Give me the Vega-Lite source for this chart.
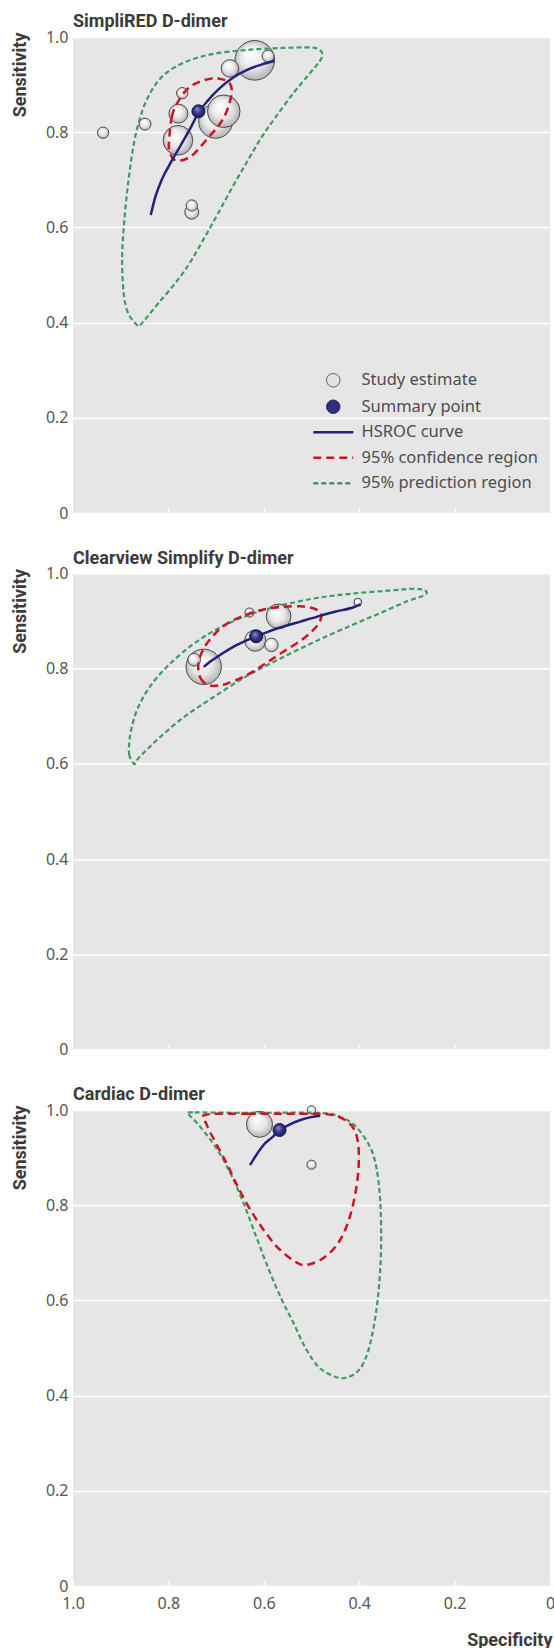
{
  "$schema": "https://vega.github.io/schema/vega-lite/v6.json",
  "background": "white",
  "padding": {"left": 10, "top": 13, "right": 4, "bottom": 0},
  "spacing": 28.5,
  "resolve": {
    "scale": {"stroke": "independent", "size": "independent"},
    "legend": {"stroke": "independent", "size": "independent"}
  },
  "config": {
    "view": {"fill": "#e6e6e6", "stroke": null},
    "font": "Noto Sans",
    "axis": {
      "labelFont": "Noto Sans", "labelFontSize": 16, "labelColor": "#555555",
      "titleFont": "Roboto", "titleFontWeight": "bold", "titleFontSize": 18, "titleColor": "#3d3a3a",
      "domain": false
    },
    "title": {"font": "Roboto", "fontSize": 18, "fontWeight": "bold", "color": "#3d3a3a", "anchor": "start", "frame": "group", "offset": -2}
  },
  "data": {"values": [
    {"panel": "SimpliRED D-dimer", "series": "Study estimate", "spec": 0.937, "sens": 0.799, "weight": 32},
    {"panel": "SimpliRED D-dimer", "series": "Study estimate", "spec": 0.849, "sens": 0.817, "weight": 36},
    {"panel": "SimpliRED D-dimer", "series": "Study estimate", "spec": 0.771, "sens": 0.882, "weight": 32},
    {"panel": "SimpliRED D-dimer", "series": "Study estimate", "spec": 0.779, "sens": 0.839, "weight": 90},
    {"panel": "SimpliRED D-dimer", "series": "Study estimate", "spec": 0.780, "sens": 0.783, "weight": 219},
    {"panel": "SimpliRED D-dimer", "series": "Study estimate", "spec": 0.751, "sens": 0.646, "weight": 32},
    {"panel": "SimpliRED D-dimer", "series": "Study estimate", "spec": 0.751, "sens": 0.632, "weight": 49},
    {"panel": "SimpliRED D-dimer", "series": "Study estimate", "spec": 0.671, "sens": 0.934, "weight": 77},
    {"panel": "SimpliRED D-dimer", "series": "Study estimate", "spec": 0.619, "sens": 0.951, "weight": 392},
    {"panel": "SimpliRED D-dimer", "series": "Study estimate", "spec": 0.591, "sens": 0.960, "weight": 36},
    {"panel": "SimpliRED D-dimer", "series": "Study estimate", "spec": 0.701, "sens": 0.823, "weight": 289},
    {"panel": "SimpliRED D-dimer", "series": "Study estimate", "spec": 0.684, "sens": 0.844, "weight": 266},
    {"panel": "SimpliRED D-dimer", "series": "Summary point", "spec": 0.737, "sens": 0.844},
    {"panel": "SimpliRED D-dimer", "series": "HSROC curve", "i": 0, "spec": 0.837, "sens": 0.626},
    {"panel": "SimpliRED D-dimer", "series": "HSROC curve", "i": 1, "spec": 0.828, "sens": 0.662},
    {"panel": "SimpliRED D-dimer", "series": "HSROC curve", "i": 2, "spec": 0.813, "sens": 0.702},
    {"panel": "SimpliRED D-dimer", "series": "HSROC curve", "i": 3, "spec": 0.794, "sens": 0.738},
    {"panel": "SimpliRED D-dimer", "series": "HSROC curve", "i": 4, "spec": 0.775, "sens": 0.771},
    {"panel": "SimpliRED D-dimer", "series": "HSROC curve", "i": 5, "spec": 0.753, "sens": 0.810},
    {"panel": "SimpliRED D-dimer", "series": "HSROC curve", "i": 6, "spec": 0.738, "sens": 0.839},
    {"panel": "SimpliRED D-dimer", "series": "HSROC curve", "i": 7, "spec": 0.716, "sens": 0.868},
    {"panel": "SimpliRED D-dimer", "series": "HSROC curve", "i": 8, "spec": 0.694, "sens": 0.891},
    {"panel": "SimpliRED D-dimer", "series": "HSROC curve", "i": 9, "spec": 0.664, "sens": 0.915},
    {"panel": "SimpliRED D-dimer", "series": "HSROC curve", "i": 10, "spec": 0.635, "sens": 0.931},
    {"panel": "SimpliRED D-dimer", "series": "HSROC curve", "i": 11, "spec": 0.605, "sens": 0.942},
    {"panel": "SimpliRED D-dimer", "series": "HSROC curve", "i": 12, "spec": 0.578, "sens": 0.950},
    {"panel": "SimpliRED D-dimer", "series": "95% confidence region", "i": 0, "spec": 0.798, "sens": 0.789},
    {"panel": "SimpliRED D-dimer", "series": "95% confidence region", "i": 1, "spec": 0.793, "sens": 0.832},
    {"panel": "SimpliRED D-dimer", "series": "95% confidence region", "i": 2, "spec": 0.780, "sens": 0.864},
    {"panel": "SimpliRED D-dimer", "series": "95% confidence region", "i": 3, "spec": 0.761, "sens": 0.890},
    {"panel": "SimpliRED D-dimer", "series": "95% confidence region", "i": 4, "spec": 0.739, "sens": 0.904},
    {"panel": "SimpliRED D-dimer", "series": "95% confidence region", "i": 5, "spec": 0.709, "sens": 0.913},
    {"panel": "SimpliRED D-dimer", "series": "95% confidence region", "i": 6, "spec": 0.687, "sens": 0.911},
    {"panel": "SimpliRED D-dimer", "series": "95% confidence region", "i": 7, "spec": 0.672, "sens": 0.904},
    {"panel": "SimpliRED D-dimer", "series": "95% confidence region", "i": 8, "spec": 0.667, "sens": 0.886},
    {"panel": "SimpliRED D-dimer", "series": "95% confidence region", "i": 9, "spec": 0.672, "sens": 0.861},
    {"panel": "SimpliRED D-dimer", "series": "95% confidence region", "i": 10, "spec": 0.683, "sens": 0.832},
    {"panel": "SimpliRED D-dimer", "series": "95% confidence region", "i": 11, "spec": 0.698, "sens": 0.810},
    {"panel": "SimpliRED D-dimer", "series": "95% confidence region", "i": 12, "spec": 0.716, "sens": 0.789},
    {"panel": "SimpliRED D-dimer", "series": "95% confidence region", "i": 13, "spec": 0.735, "sens": 0.767},
    {"panel": "SimpliRED D-dimer", "series": "95% confidence region", "i": 14, "spec": 0.753, "sens": 0.749},
    {"panel": "SimpliRED D-dimer", "series": "95% confidence region", "i": 15, "spec": 0.776, "sens": 0.740},
    {"panel": "SimpliRED D-dimer", "series": "95% confidence region", "i": 16, "spec": 0.790, "sens": 0.744},
    {"panel": "SimpliRED D-dimer", "series": "95% confidence region", "i": 17, "spec": 0.798, "sens": 0.760},
    {"panel": "SimpliRED D-dimer", "series": "95% confidence region", "i": 18, "spec": 0.799, "sens": 0.774},
    {"panel": "SimpliRED D-dimer", "series": "95% prediction region", "i": 0, "spec": 0.865, "sens": 0.394},
    {"panel": "SimpliRED D-dimer", "series": "95% prediction region", "i": 1, "spec": 0.885, "sens": 0.421},
    {"panel": "SimpliRED D-dimer", "series": "95% prediction region", "i": 2, "spec": 0.894, "sens": 0.464},
    {"panel": "SimpliRED D-dimer", "series": "95% prediction region", "i": 3, "spec": 0.897, "sens": 0.536},
    {"panel": "SimpliRED D-dimer", "series": "95% prediction region", "i": 4, "spec": 0.893, "sens": 0.608},
    {"panel": "SimpliRED D-dimer", "series": "95% prediction region", "i": 5, "spec": 0.885, "sens": 0.688},
    {"panel": "SimpliRED D-dimer", "series": "95% prediction region", "i": 6, "spec": 0.874, "sens": 0.767},
    {"panel": "SimpliRED D-dimer", "series": "95% prediction region", "i": 7, "spec": 0.861, "sens": 0.825},
    {"panel": "SimpliRED D-dimer", "series": "95% prediction region", "i": 8, "spec": 0.842, "sens": 0.875},
    {"panel": "SimpliRED D-dimer", "series": "95% prediction region", "i": 9, "spec": 0.813, "sens": 0.917},
    {"panel": "SimpliRED D-dimer", "series": "95% prediction region", "i": 10, "spec": 0.768, "sens": 0.946},
    {"panel": "SimpliRED D-dimer", "series": "95% prediction region", "i": 11, "spec": 0.709, "sens": 0.964},
    {"panel": "SimpliRED D-dimer", "series": "95% prediction region", "i": 12, "spec": 0.634, "sens": 0.973},
    {"panel": "SimpliRED D-dimer", "series": "95% prediction region", "i": 13, "spec": 0.560, "sens": 0.977},
    {"panel": "SimpliRED D-dimer", "series": "95% prediction region", "i": 14, "spec": 0.501, "sens": 0.978},
    {"panel": "SimpliRED D-dimer", "series": "95% prediction region", "i": 15, "spec": 0.483, "sens": 0.973},
    {"panel": "SimpliRED D-dimer", "series": "95% prediction region", "i": 16, "spec": 0.477, "sens": 0.963},
    {"panel": "SimpliRED D-dimer", "series": "95% prediction region", "i": 17, "spec": 0.483, "sens": 0.949},
    {"panel": "SimpliRED D-dimer", "series": "95% prediction region", "i": 18, "spec": 0.505, "sens": 0.922},
    {"panel": "SimpliRED D-dimer", "series": "95% prediction region", "i": 19, "spec": 0.538, "sens": 0.882},
    {"panel": "SimpliRED D-dimer", "series": "95% prediction region", "i": 20, "spec": 0.575, "sens": 0.832},
    {"panel": "SimpliRED D-dimer", "series": "95% prediction region", "i": 21, "spec": 0.605, "sens": 0.789},
    {"panel": "SimpliRED D-dimer", "series": "95% prediction region", "i": 22, "spec": 0.635, "sens": 0.738},
    {"panel": "SimpliRED D-dimer", "series": "95% prediction region", "i": 23, "spec": 0.664, "sens": 0.688},
    {"panel": "SimpliRED D-dimer", "series": "95% prediction region", "i": 24, "spec": 0.694, "sens": 0.633},
    {"panel": "SimpliRED D-dimer", "series": "95% prediction region", "i": 25, "spec": 0.724, "sens": 0.579},
    {"panel": "SimpliRED D-dimer", "series": "95% prediction region", "i": 26, "spec": 0.753, "sens": 0.529},
    {"panel": "SimpliRED D-dimer", "series": "95% prediction region", "i": 27, "spec": 0.783, "sens": 0.486},
    {"panel": "SimpliRED D-dimer", "series": "95% prediction region", "i": 28, "spec": 0.820, "sens": 0.442},
    {"panel": "SimpliRED D-dimer", "series": "95% prediction region", "i": 29, "spec": 0.846, "sens": 0.410},
    {"panel": "SimpliRED D-dimer", "series": "95% prediction region", "i": 30, "spec": 0.858, "sens": 0.396},

    {"panel": "Clearview Simplify D-dimer", "series": "Study estimate", "spec": 0.726, "sens": 0.804, "weight": 313},
    {"panel": "Clearview Simplify D-dimer", "series": "Study estimate", "spec": 0.746, "sens": 0.819, "weight": 41},
    {"panel": "Clearview Simplify D-dimer", "series": "Study estimate", "spec": 0.630, "sens": 0.918, "weight": 21},
    {"panel": "Clearview Simplify D-dimer", "series": "Study estimate", "spec": 0.569, "sens": 0.910, "weight": 154},
    {"panel": "Clearview Simplify D-dimer", "series": "Study estimate", "spec": 0.618, "sens": 0.859, "weight": 112},
    {"panel": "Clearview Simplify D-dimer", "series": "Study estimate", "spec": 0.584, "sens": 0.850, "weight": 45},
    {"panel": "Clearview Simplify D-dimer", "series": "Study estimate", "spec": 0.403, "sens": 0.940, "weight": 15},
    {"panel": "Clearview Simplify D-dimer", "series": "Summary point", "spec": 0.616, "sens": 0.868},
    {"panel": "Clearview Simplify D-dimer", "series": "HSROC curve", "i": 0, "spec": 0.726, "sens": 0.804},
    {"panel": "Clearview Simplify D-dimer", "series": "HSROC curve", "i": 1, "spec": 0.709, "sens": 0.817},
    {"panel": "Clearview Simplify D-dimer", "series": "HSROC curve", "i": 2, "spec": 0.687, "sens": 0.832},
    {"panel": "Clearview Simplify D-dimer", "series": "HSROC curve", "i": 3, "spec": 0.664, "sens": 0.846},
    {"panel": "Clearview Simplify D-dimer", "series": "HSROC curve", "i": 4, "spec": 0.635, "sens": 0.860},
    {"panel": "Clearview Simplify D-dimer", "series": "HSROC curve", "i": 5, "spec": 0.616, "sens": 0.868},
    {"panel": "Clearview Simplify D-dimer", "series": "HSROC curve", "i": 6, "spec": 0.590, "sens": 0.878},
    {"panel": "Clearview Simplify D-dimer", "series": "HSROC curve", "i": 7, "spec": 0.560, "sens": 0.888},
    {"panel": "Clearview Simplify D-dimer", "series": "HSROC curve", "i": 8, "spec": 0.523, "sens": 0.899},
    {"panel": "Clearview Simplify D-dimer", "series": "HSROC curve", "i": 9, "spec": 0.486, "sens": 0.910},
    {"panel": "Clearview Simplify D-dimer", "series": "HSROC curve", "i": 10, "spec": 0.449, "sens": 0.920},
    {"panel": "Clearview Simplify D-dimer", "series": "HSROC curve", "i": 11, "spec": 0.412, "sens": 0.929},
    {"panel": "Clearview Simplify D-dimer", "series": "HSROC curve", "i": 12, "spec": 0.397, "sens": 0.935},
    {"panel": "Clearview Simplify D-dimer", "series": "95% confidence region", "i": 0, "spec": 0.737, "sens": 0.796},
    {"panel": "Clearview Simplify D-dimer", "series": "95% confidence region", "i": 1, "spec": 0.733, "sens": 0.781},
    {"panel": "Clearview Simplify D-dimer", "series": "95% confidence region", "i": 2, "spec": 0.724, "sens": 0.770},
    {"panel": "Clearview Simplify D-dimer", "series": "95% confidence region", "i": 3, "spec": 0.709, "sens": 0.764},
    {"panel": "Clearview Simplify D-dimer", "series": "95% confidence region", "i": 4, "spec": 0.679, "sens": 0.768},
    {"panel": "Clearview Simplify D-dimer", "series": "95% confidence region", "i": 5, "spec": 0.635, "sens": 0.787},
    {"panel": "Clearview Simplify D-dimer", "series": "95% confidence region", "i": 6, "spec": 0.598, "sens": 0.810},
    {"panel": "Clearview Simplify D-dimer", "series": "95% confidence region", "i": 7, "spec": 0.560, "sens": 0.835},
    {"panel": "Clearview Simplify D-dimer", "series": "95% confidence region", "i": 8, "spec": 0.516, "sens": 0.864},
    {"panel": "Clearview Simplify D-dimer", "series": "95% confidence region", "i": 9, "spec": 0.486, "sens": 0.893},
    {"panel": "Clearview Simplify D-dimer", "series": "95% confidence region", "i": 10, "spec": 0.480, "sens": 0.915},
    {"panel": "Clearview Simplify D-dimer", "series": "95% confidence region", "i": 11, "spec": 0.494, "sens": 0.926},
    {"panel": "Clearview Simplify D-dimer", "series": "95% confidence region", "i": 12, "spec": 0.523, "sens": 0.931},
    {"panel": "Clearview Simplify D-dimer", "series": "95% confidence region", "i": 13, "spec": 0.560, "sens": 0.930},
    {"panel": "Clearview Simplify D-dimer", "series": "95% confidence region", "i": 14, "spec": 0.598, "sens": 0.925},
    {"panel": "Clearview Simplify D-dimer", "series": "95% confidence region", "i": 15, "spec": 0.635, "sens": 0.914},
    {"panel": "Clearview Simplify D-dimer", "series": "95% confidence region", "i": 16, "spec": 0.672, "sens": 0.898},
    {"panel": "Clearview Simplify D-dimer", "series": "95% confidence region", "i": 17, "spec": 0.701, "sens": 0.875},
    {"panel": "Clearview Simplify D-dimer", "series": "95% confidence region", "i": 18, "spec": 0.724, "sens": 0.846},
    {"panel": "Clearview Simplify D-dimer", "series": "95% confidence region", "i": 19, "spec": 0.736, "sens": 0.817},
    {"panel": "Clearview Simplify D-dimer", "series": "95% prediction region", "i": 0, "spec": 0.872, "sens": 0.600},
    {"panel": "Clearview Simplify D-dimer", "series": "95% prediction region", "i": 1, "spec": 0.882, "sens": 0.618},
    {"panel": "Clearview Simplify D-dimer", "series": "95% prediction region", "i": 2, "spec": 0.882, "sens": 0.643},
    {"panel": "Clearview Simplify D-dimer", "series": "95% prediction region", "i": 3, "spec": 0.878, "sens": 0.672},
    {"panel": "Clearview Simplify D-dimer", "series": "95% prediction region", "i": 4, "spec": 0.865, "sens": 0.715},
    {"panel": "Clearview Simplify D-dimer", "series": "95% prediction region", "i": 5, "spec": 0.839, "sens": 0.762},
    {"panel": "Clearview Simplify D-dimer", "series": "95% prediction region", "i": 6, "spec": 0.798, "sens": 0.809},
    {"panel": "Clearview Simplify D-dimer", "series": "95% prediction region", "i": 7, "spec": 0.746, "sens": 0.853},
    {"panel": "Clearview Simplify D-dimer", "series": "95% prediction region", "i": 8, "spec": 0.687, "sens": 0.889},
    {"panel": "Clearview Simplify D-dimer", "series": "95% prediction region", "i": 9, "spec": 0.620, "sens": 0.917},
    {"panel": "Clearview Simplify D-dimer", "series": "95% prediction region", "i": 10, "spec": 0.560, "sens": 0.934},
    {"panel": "Clearview Simplify D-dimer", "series": "95% prediction region", "i": 11, "spec": 0.486, "sens": 0.949},
    {"panel": "Clearview Simplify D-dimer", "series": "95% prediction region", "i": 12, "spec": 0.412, "sens": 0.958},
    {"panel": "Clearview Simplify D-dimer", "series": "95% prediction region", "i": 13, "spec": 0.338, "sens": 0.964},
    {"panel": "Clearview Simplify D-dimer", "series": "95% prediction region", "i": 14, "spec": 0.282, "sens": 0.968},
    {"panel": "Clearview Simplify D-dimer", "series": "95% prediction region", "i": 15, "spec": 0.260, "sens": 0.963},
    {"panel": "Clearview Simplify D-dimer", "series": "95% prediction region", "i": 16, "spec": 0.264, "sens": 0.954},
    {"panel": "Clearview Simplify D-dimer", "series": "95% prediction region", "i": 17, "spec": 0.301, "sens": 0.941},
    {"panel": "Clearview Simplify D-dimer", "series": "95% prediction region", "i": 18, "spec": 0.353, "sens": 0.918},
    {"panel": "Clearview Simplify D-dimer", "series": "95% prediction region", "i": 19, "spec": 0.412, "sens": 0.893},
    {"panel": "Clearview Simplify D-dimer", "series": "95% prediction region", "i": 20, "spec": 0.486, "sens": 0.860},
    {"panel": "Clearview Simplify D-dimer", "series": "95% prediction region", "i": 21, "spec": 0.560, "sens": 0.824},
    {"panel": "Clearview Simplify D-dimer", "series": "95% prediction region", "i": 22, "spec": 0.635, "sens": 0.785},
    {"panel": "Clearview Simplify D-dimer", "series": "95% prediction region", "i": 23, "spec": 0.709, "sens": 0.738},
    {"panel": "Clearview Simplify D-dimer", "series": "95% prediction region", "i": 24, "spec": 0.768, "sens": 0.698},
    {"panel": "Clearview Simplify D-dimer", "series": "95% prediction region", "i": 25, "spec": 0.820, "sens": 0.654},
    {"panel": "Clearview Simplify D-dimer", "series": "95% prediction region", "i": 26, "spec": 0.857, "sens": 0.618},
    {"panel": "Clearview Simplify D-dimer", "series": "95% prediction region", "i": 27, "spec": 0.868, "sens": 0.605},

    {"panel": "Cardiac D-dimer", "series": "Study estimate", "spec": 0.500, "sens": 1.0, "weight": 18},
    {"panel": "Cardiac D-dimer", "series": "Study estimate", "spec": 0.609, "sens": 0.970, "weight": 170},
    {"panel": "Cardiac D-dimer", "series": "Study estimate", "spec": 0.500, "sens": 0.885, "weight": 21},
    {"panel": "Cardiac D-dimer", "series": "Summary point", "spec": 0.567, "sens": 0.958},
    {"panel": "Cardiac D-dimer", "series": "HSROC curve", "i": 0, "spec": 0.629, "sens": 0.884},
    {"panel": "Cardiac D-dimer", "series": "HSROC curve", "i": 1, "spec": 0.616, "sens": 0.905},
    {"panel": "Cardiac D-dimer", "series": "HSROC curve", "i": 2, "spec": 0.601, "sens": 0.926},
    {"panel": "Cardiac D-dimer", "series": "HSROC curve", "i": 3, "spec": 0.582, "sens": 0.943},
    {"panel": "Cardiac D-dimer", "series": "HSROC curve", "i": 4, "spec": 0.567, "sens": 0.957},
    {"panel": "Cardiac D-dimer", "series": "HSROC curve", "i": 5, "spec": 0.545, "sens": 0.970},
    {"panel": "Cardiac D-dimer", "series": "HSROC curve", "i": 6, "spec": 0.523, "sens": 0.979},
    {"panel": "Cardiac D-dimer", "series": "HSROC curve", "i": 7, "spec": 0.501, "sens": 0.985},
    {"panel": "Cardiac D-dimer", "series": "HSROC curve", "i": 8, "spec": 0.482, "sens": 0.988},
    {"panel": "Cardiac D-dimer", "series": "95% confidence region", "i": 0, "spec": 0.722, "sens": 0.990},
    {"panel": "Cardiac D-dimer", "series": "95% confidence region", "i": 1, "spec": 0.634, "sens": 0.992},
    {"panel": "Cardiac D-dimer", "series": "95% confidence region", "i": 2, "spec": 0.560, "sens": 0.992},
    {"panel": "Cardiac D-dimer", "series": "95% confidence region", "i": 3, "spec": 0.501, "sens": 0.992},
    {"panel": "Cardiac D-dimer", "series": "95% confidence region", "i": 4, "spec": 0.467, "sens": 0.991},
    {"panel": "Cardiac D-dimer", "series": "95% confidence region", "i": 5, "spec": 0.441, "sens": 0.985},
    {"panel": "Cardiac D-dimer", "series": "95% confidence region", "i": 6, "spec": 0.415, "sens": 0.966},
    {"panel": "Cardiac D-dimer", "series": "95% confidence region", "i": 7, "spec": 0.403, "sens": 0.935},
    {"panel": "Cardiac D-dimer", "series": "95% confidence region", "i": 8, "spec": 0.401, "sens": 0.886},
    {"panel": "Cardiac D-dimer", "series": "95% confidence region", "i": 9, "spec": 0.408, "sens": 0.825},
    {"panel": "Cardiac D-dimer", "series": "95% confidence region", "i": 10, "spec": 0.423, "sens": 0.765},
    {"panel": "Cardiac D-dimer", "series": "95% confidence region", "i": 11, "spec": 0.445, "sens": 0.719},
    {"panel": "Cardiac D-dimer", "series": "95% confidence region", "i": 12, "spec": 0.475, "sens": 0.689},
    {"panel": "Cardiac D-dimer", "series": "95% confidence region", "i": 13, "spec": 0.508, "sens": 0.675},
    {"panel": "Cardiac D-dimer", "series": "95% confidence region", "i": 14, "spec": 0.530, "sens": 0.679},
    {"panel": "Cardiac D-dimer", "series": "95% confidence region", "i": 15, "spec": 0.568, "sens": 0.708},
    {"panel": "Cardiac D-dimer", "series": "95% confidence region", "i": 16, "spec": 0.601, "sens": 0.749},
    {"panel": "Cardiac D-dimer", "series": "95% confidence region", "i": 17, "spec": 0.631, "sens": 0.795},
    {"panel": "Cardiac D-dimer", "series": "95% confidence region", "i": 18, "spec": 0.657, "sens": 0.844},
    {"panel": "Cardiac D-dimer", "series": "95% confidence region", "i": 19, "spec": 0.679, "sens": 0.890},
    {"panel": "Cardiac D-dimer", "series": "95% confidence region", "i": 20, "spec": 0.705, "sens": 0.939},
    {"panel": "Cardiac D-dimer", "series": "95% confidence region", "i": 21, "spec": 0.720, "sens": 0.970},
    {"panel": "Cardiac D-dimer", "series": "95% prediction region", "i": 0, "spec": 0.760, "sens": 0.994},
    {"panel": "Cardiac D-dimer", "series": "95% prediction region", "i": 1, "spec": 0.745, "sens": 0.995},
    {"panel": "Cardiac D-dimer", "series": "95% prediction region", "i": 2, "spec": 0.634, "sens": 0.994},
    {"panel": "Cardiac D-dimer", "series": "95% prediction region", "i": 3, "spec": 0.486, "sens": 0.994},
    {"panel": "Cardiac D-dimer", "series": "95% prediction region", "i": 4, "spec": 0.441, "sens": 0.986},
    {"panel": "Cardiac D-dimer", "series": "95% prediction region", "i": 5, "spec": 0.408, "sens": 0.966},
    {"panel": "Cardiac D-dimer", "series": "95% prediction region", "i": 6, "spec": 0.378, "sens": 0.924},
    {"panel": "Cardiac D-dimer", "series": "95% prediction region", "i": 7, "spec": 0.364, "sens": 0.879},
    {"panel": "Cardiac D-dimer", "series": "95% prediction region", "i": 8, "spec": 0.356, "sens": 0.810},
    {"panel": "Cardiac D-dimer", "series": "95% prediction region", "i": 9, "spec": 0.354, "sens": 0.719},
    {"panel": "Cardiac D-dimer", "series": "95% prediction region", "i": 10, "spec": 0.358, "sens": 0.636},
    {"panel": "Cardiac D-dimer", "series": "95% prediction region", "i": 11, "spec": 0.367, "sens": 0.560},
    {"panel": "Cardiac D-dimer", "series": "95% prediction region", "i": 12, "spec": 0.382, "sens": 0.491},
    {"panel": "Cardiac D-dimer", "series": "95% prediction region", "i": 13, "spec": 0.401, "sens": 0.453},
    {"panel": "Cardiac D-dimer", "series": "95% prediction region", "i": 14, "spec": 0.430, "sens": 0.437},
    {"panel": "Cardiac D-dimer", "series": "95% prediction region", "i": 15, "spec": 0.456, "sens": 0.442},
    {"panel": "Cardiac D-dimer", "series": "95% prediction region", "i": 16, "spec": 0.486, "sens": 0.461},
    {"panel": "Cardiac D-dimer", "series": "95% prediction region", "i": 17, "spec": 0.512, "sens": 0.499},
    {"panel": "Cardiac D-dimer", "series": "95% prediction region", "i": 18, "spec": 0.538, "sens": 0.553},
    {"panel": "Cardiac D-dimer", "series": "95% prediction region", "i": 19, "spec": 0.564, "sens": 0.605},
    {"panel": "Cardiac D-dimer", "series": "95% prediction region", "i": 20, "spec": 0.590, "sens": 0.666},
    {"panel": "Cardiac D-dimer", "series": "95% prediction region", "i": 21, "spec": 0.616, "sens": 0.734},
    {"panel": "Cardiac D-dimer", "series": "95% prediction region", "i": 22, "spec": 0.642, "sens": 0.803},
    {"panel": "Cardiac D-dimer", "series": "95% prediction region", "i": 23, "spec": 0.668, "sens": 0.863},
    {"panel": "Cardiac D-dimer", "series": "95% prediction region", "i": 24, "spec": 0.697, "sens": 0.916},
    {"panel": "Cardiac D-dimer", "series": "95% prediction region", "i": 25, "spec": 0.731, "sens": 0.962},
    {"panel": "Cardiac D-dimer", "series": "95% prediction region", "i": 26, "spec": 0.752, "sens": 0.985}
  ]},
  "vconcat": [
    {
      "title": "SimpliRED D-dimer",
      "width": 477, "height": 476,
      "transform": [{"filter": "datum.panel == 'SimpliRED D-dimer'"}],
      "encoding": {
        "x": {"field": "spec", "type": "quantitative", "scale": {"domain": [0, 1], "reverse": true, "nice": false, "zero": false},
          "axis": {"values": [0.2, 0.4, 0.6, 0.8], "labels": false, "title": null, "grid": false, "ticks": true, "tickSize": -5, "tickColor": "white", "tickWidth": 1.5}},
        "y": {"field": "sens", "type": "quantitative", "scale": {"domain": [0, 1], "nice": false},
          "axis": {"values": [0, 0.2, 0.4, 0.6, 0.8, 1], "labelExpr": "datum.value == 0 ? '0' : format(datum.value, '.1f')", "labelPadding": 5, "ticks": false, "grid": true, "gridColor": "white", "gridWidth": 1.5,
            "title": "Sensitivity", "titleAngle": -90, "titleAlign": "right", "titleBaseline": "middle", "titleX": -53, "titleY": -5}},
        "stroke": {"field": "series", "type": "nominal",
          "scale": {"domain": ["Study estimate", "Summary point", "HSROC curve", "95% confidence region", "95% prediction region"], "range": ["#4a4a4a", "#1a1a4a", "#22227a", "#cc1424", "#3f9a62"]},
          "legend": {
            "title": null, "orient": "none", "legendX": 252, "legendY": 335,
            "symbolSize": 400, "labelOffset": 20, "rowPadding": 8.5, "labelFontSize": 16.5, "labelColor": "#4d4d4d", "labelFont": "Noto Sans", "labelLimit": 400,
            "encode": {"symbols": {"update": {
              "shape": {"signal": "indexof(['Study estimate','Summary point'], datum.value) >= 0 ? 'circle' : 'M-2,0H2'"},
              "size": {"signal": "indexof(['Study estimate','Summary point'], datum.value) >= 0 ? 180 : 400"},
              "fill": {"signal": "datum.value == 'Study estimate' ? '#e2e2e2' : datum.value == 'Summary point' ? '#2e2e80' : 'transparent'"},
              "strokeWidth": {"signal": "indexof(['Study estimate','Summary point'], datum.value) >= 0 ? 1 : 2.5"},
              "strokeDash": {"signal": "datum.value == '95% confidence region' ? [8, 5] : datum.value == '95% prediction region' ? [5, 3] : [1, 0]"},
              "opacity": {"value": 1}
            }}}
          }}
      },
      "layer": [
        {"transform": [{"filter": "datum.series == 'Study estimate'"}],
         "mark": {"type": "point", "shape": "circle", "filled": true, "opacity": 1, "strokeWidth": 1,
           "fill": {"gradient": "radial", "x1": 0.38, "y1": 0.32, "r1": 0.02, "x2": 0.5, "y2": 0.5, "r2": 0.55, "stops": [{"offset": 0, "color": "#ffffff"}, {"offset": 0.55, "color": "#e6e6e6"}, {"offset": 1, "color": "#a9a9a9"}]}},
         "encoding": {"size": {"field": "weight", "type": "quantitative", "scale": {"domain": [0, 400], "range": [0, 1600]}, "legend": null},
           "order": {"field": "weight", "sort": "descending"}}},
        {"transform": [{"filter": "datum.series == '95% prediction region'"}],
         "mark": {"type": "line", "interpolate": "cardinal-closed", "strokeWidth": 2.2, "strokeDash": [5, 3]},
         "encoding": {"order": {"field": "i"}}},
        {"transform": [{"filter": "datum.series == '95% confidence region'"}],
         "mark": {"type": "line", "interpolate": "cardinal-closed", "strokeWidth": 2.5, "strokeDash": [8, 5]},
         "encoding": {"order": {"field": "i"}}},
        {"transform": [{"filter": "datum.series == 'HSROC curve'"}],
         "mark": {"type": "line", "interpolate": "monotone", "strokeWidth": 2.5},
         "encoding": {"order": {"field": "i"}}},
        {"transform": [{"filter": "datum.series == 'Summary point'"}],
         "mark": {"type": "point", "shape": "circle", "filled": true, "opacity": 1, "strokeWidth": 1, "size": 170,
           "fill": {"gradient": "radial", "x1": 0.38, "y1": 0.32, "r1": 0.02, "x2": 0.5, "y2": 0.5, "r2": 0.55, "stops": [{"offset": 0, "color": "#8a8ad0"}, {"offset": 0.5, "color": "#35358a"}, {"offset": 1, "color": "#181850"}]}}}
      ]
    },
    {
      "title": "Clearview Simplify D-dimer",
      "width": 477, "height": 476,
      "transform": [{"filter": "datum.panel == 'Clearview Simplify D-dimer'"}],
      "encoding": {
        "x": {"field": "spec", "type": "quantitative", "scale": {"domain": [0, 1], "reverse": true, "nice": false, "zero": false},
          "axis": {"values": [0.2, 0.4, 0.6, 0.8], "labels": false, "title": null, "grid": false, "ticks": true, "tickSize": -5, "tickColor": "white", "tickWidth": 1.5}},
        "y": {"field": "sens", "type": "quantitative", "scale": {"domain": [0, 1], "nice": false},
          "axis": {"values": [0, 0.2, 0.4, 0.6, 0.8, 1], "labelExpr": "datum.value == 0 ? '0' : format(datum.value, '.1f')", "labelPadding": 5, "ticks": false, "grid": true, "gridColor": "white", "gridWidth": 1.5,
            "title": "Sensitivity", "titleAngle": -90, "titleAlign": "right", "titleBaseline": "middle", "titleX": -53, "titleY": -5}},
        "stroke": {"field": "series", "type": "nominal",
          "scale": {"domain": ["Study estimate", "Summary point", "HSROC curve", "95% confidence region", "95% prediction region"], "range": ["#4a4a4a", "#1a1a4a", "#22227a", "#cc1424", "#3f9a62"]},
          "legend": null}
      },
      "layer": [
        {"transform": [{"filter": "datum.series == 'Study estimate'"}],
         "mark": {"type": "point", "shape": "circle", "filled": true, "opacity": 1, "strokeWidth": 1,
           "fill": {"gradient": "radial", "x1": 0.38, "y1": 0.32, "r1": 0.02, "x2": 0.5, "y2": 0.5, "r2": 0.55, "stops": [{"offset": 0, "color": "#ffffff"}, {"offset": 0.55, "color": "#e6e6e6"}, {"offset": 1, "color": "#a9a9a9"}]}},
         "encoding": {"size": {"field": "weight", "type": "quantitative", "scale": {"domain": [0, 400], "range": [0, 1600]}, "legend": null},
           "order": {"field": "weight", "sort": "descending"}}},
        {"transform": [{"filter": "datum.series == '95% prediction region'"}],
         "mark": {"type": "line", "interpolate": "cardinal-closed", "strokeWidth": 2.2, "strokeDash": [5, 3]},
         "encoding": {"order": {"field": "i"}}},
        {"transform": [{"filter": "datum.series == '95% confidence region'"}],
         "mark": {"type": "line", "interpolate": "cardinal-closed", "strokeWidth": 2.5, "strokeDash": [8, 5]},
         "encoding": {"order": {"field": "i"}}},
        {"transform": [{"filter": "datum.series == 'HSROC curve'"}],
         "mark": {"type": "line", "interpolate": "monotone", "strokeWidth": 2.5},
         "encoding": {"order": {"field": "i"}}},
        {"transform": [{"filter": "datum.series == 'Summary point'"}],
         "mark": {"type": "point", "shape": "circle", "filled": true, "opacity": 1, "strokeWidth": 1, "size": 170,
           "fill": {"gradient": "radial", "x1": 0.38, "y1": 0.32, "r1": 0.02, "x2": 0.5, "y2": 0.5, "r2": 0.55, "stops": [{"offset": 0, "color": "#8a8ad0"}, {"offset": 0.5, "color": "#35358a"}, {"offset": 1, "color": "#181850"}]}}}
      ]
    },
    {
      "title": "Cardiac D-dimer",
      "width": 477, "height": 476,
      "transform": [{"filter": "datum.panel == 'Cardiac D-dimer'"}],
      "encoding": {
        "x": {"field": "spec", "type": "quantitative", "scale": {"domain": [0, 1], "reverse": true, "nice": false, "zero": false},
          "axis": {"values": [0, 0.2, 0.4, 0.6, 0.8, 1], "labelExpr": "datum.value == 0 ? '0' : format(datum.value, '.1f')", "labelFlush": false, "labelPadding": 14, "grid": false, "ticks": true, "tickSize": -5, "tickColor": "white", "tickWidth": 1.5,
            "title": "Specificity", "titleAlign": "right", "titleBaseline": "middle", "titleX": 479, "titleY": 54}},
        "y": {"field": "sens", "type": "quantitative", "scale": {"domain": [0, 1], "nice": false},
          "axis": {"values": [0, 0.2, 0.4, 0.6, 0.8, 1], "labelExpr": "datum.value == 0 ? '0' : format(datum.value, '.1f')", "labelPadding": 5, "ticks": false, "grid": true, "gridColor": "white", "gridWidth": 1.5,
            "title": "Sensitivity", "titleAngle": -90, "titleAlign": "right", "titleBaseline": "middle", "titleX": -53, "titleY": -5}},
        "stroke": {"field": "series", "type": "nominal",
          "scale": {"domain": ["Study estimate", "Summary point", "HSROC curve", "95% confidence region", "95% prediction region"], "range": ["#4a4a4a", "#1a1a4a", "#22227a", "#cc1424", "#3f9a62"]},
          "legend": null}
      },
      "layer": [
        {"transform": [{"filter": "datum.series == 'Study estimate'"}],
         "mark": {"type": "point", "shape": "circle", "filled": true, "opacity": 1, "strokeWidth": 1,
           "fill": {"gradient": "radial", "x1": 0.38, "y1": 0.32, "r1": 0.02, "x2": 0.5, "y2": 0.5, "r2": 0.55, "stops": [{"offset": 0, "color": "#ffffff"}, {"offset": 0.55, "color": "#e6e6e6"}, {"offset": 1, "color": "#a9a9a9"}]}},
         "encoding": {"size": {"field": "weight", "type": "quantitative", "scale": {"domain": [0, 400], "range": [0, 1600]}, "legend": null},
           "order": {"field": "weight", "sort": "descending"}}},
        {"transform": [{"filter": "datum.series == '95% prediction region'"}],
         "mark": {"type": "line", "interpolate": "cardinal-closed", "strokeWidth": 2.2, "strokeDash": [5, 3]},
         "encoding": {"order": {"field": "i"}}},
        {"transform": [{"filter": "datum.series == '95% confidence region'"}],
         "mark": {"type": "line", "interpolate": "cardinal-closed", "strokeWidth": 2.5, "strokeDash": [8, 5]},
         "encoding": {"order": {"field": "i"}}},
        {"transform": [{"filter": "datum.series == 'HSROC curve'"}],
         "mark": {"type": "line", "interpolate": "monotone", "strokeWidth": 2.5},
         "encoding": {"order": {"field": "i"}}},
        {"transform": [{"filter": "datum.series == 'Summary point'"}],
         "mark": {"type": "point", "shape": "circle", "filled": true, "opacity": 1, "strokeWidth": 1, "size": 170,
           "fill": {"gradient": "radial", "x1": 0.38, "y1": 0.32, "r1": 0.02, "x2": 0.5, "y2": 0.5, "r2": 0.55, "stops": [{"offset": 0, "color": "#8a8ad0"}, {"offset": 0.5, "color": "#35358a"}, {"offset": 1, "color": "#181850"}]}}}
      ]
    }
  ]
}
